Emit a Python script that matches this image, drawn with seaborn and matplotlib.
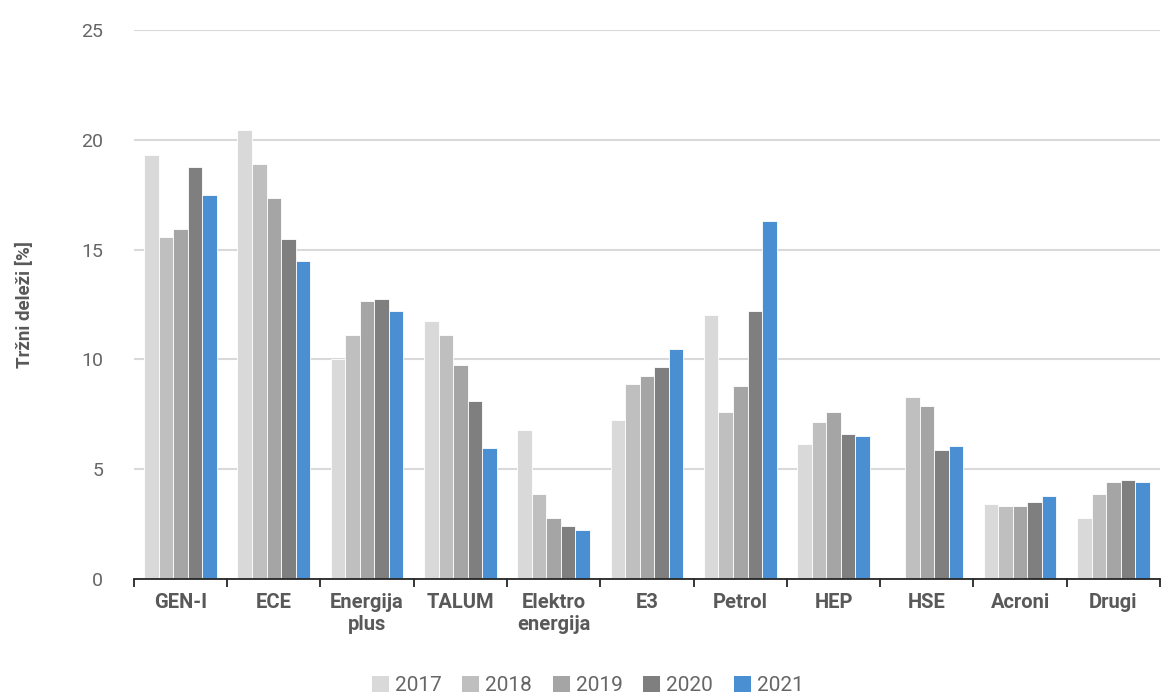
import pandas as pd
import numpy as np
import matplotlib.pyplot as plt
import seaborn as sns
from matplotlib.patches import Patch

sns.set_theme(style="white")
plt.rcParams['font.family'] = ['Roboto', 'DejaVu Sans']

# Market shares by supplier and year (%)
companies = ['GEN-I', 'ECE', 'Energija\nplus', 'TALUM', 'Elektro\nenergija',
             'E3', 'Petrol', 'HEP', 'HSE', 'Acroni', 'Drugi']
years = ['2017', '2018', '2019', '2020', '2021']
share_2017 = [19.3, 20.45, 10.0, 11.75, 6.77, 7.23, 12.0, 6.13, 0.0, 3.42, 2.78]
share_2018 = [15.56, 18.9, 11.1, 11.1, 3.87, 8.87, 7.59, 7.13, 8.3, 3.34, 3.88]
share_2019 = [15.93, 17.37, 12.66, 9.76, 2.79, 9.23, 8.77, 7.59, 7.86, 3.34, 4.42]
share_2020 = [18.74, 15.47, 12.75, 8.12, 2.43, 9.67, 12.2, 6.59, 5.86, 3.52, 4.51]
share_2021 = [17.47, 14.47, 12.2, 5.95, 2.23, 10.49, 16.29, 6.5, 6.04, 3.79, 4.42]
colors = ['#d9d9d9', '#bfbfbf', '#a5a5a5', '#7f7f7f', '#4a8fd2']

rows = []
for yr, vals in zip(years, [share_2017, share_2018, share_2019, share_2020, share_2021]):
    for c, v in zip(companies, vals):
        rows.append({'company': c, 'year': yr, 'share': v})
df = pd.DataFrame(rows)

fig = plt.figure(figsize=(11.64, 6.93), dpi=100)
ax = fig.add_axes([0.115, 0.1645, 0.8816, 0.7922])

sns.barplot(data=df, x='company', y='share', hue='year', order=companies,
            hue_order=years, palette=colors, width=0.78, saturation=1,
            edgecolor='white', linewidth=0.6, legend=False, ax=ax)

ax.set_ylim(0, 25)
ax.set_xlim(-0.5, len(companies) - 0.5)
ax.set_yticks([0, 5, 10, 15, 20, 25])
ax.yaxis.grid(True, color='#d9d9d9', linewidth=1.5)
ax.set_axisbelow(True)
for s in ['top', 'right', 'left']:
    ax.spines[s].set_visible(False)
ax.spines['bottom'].set_color('#262626')
ax.spines['bottom'].set_linewidth(1.3)

ax.tick_params(axis='y', length=0, labelsize=14, labelcolor='#666666', pad=22)

# ticks between categories
ax.set_xticks(np.arange(-0.5, len(companies)), minor=True)
ax.tick_params(axis='x', which='minor', bottom=True, length=6, width=1.3,
               color='#262626', direction='out')
ax.tick_params(axis='x', which='major', bottom=False, length=0, labelsize=14.5,
               labelcolor='#595959', pad=10)
for lbl in ax.get_xticklabels():
    lbl.set_fontweight('bold')

ax.set_xlabel('')
ax.set_ylabel('Tržni deleži [%]', fontsize=13.5, fontweight='bold', color='#595959', labelpad=34)

handles = [Patch(facecolor=c, edgecolor='none') for c in colors]
fig.legend(handles, years, loc='lower center', bbox_to_anchor=(0.505, -0.03), ncol=5,
           frameon=False, labelcolor='#666666', handlelength=0.8,
           handleheight=0.8, handletextpad=0.3, columnspacing=1.0,
           prop={'size': 15})

fig.savefig('out.png', dpi=100)
